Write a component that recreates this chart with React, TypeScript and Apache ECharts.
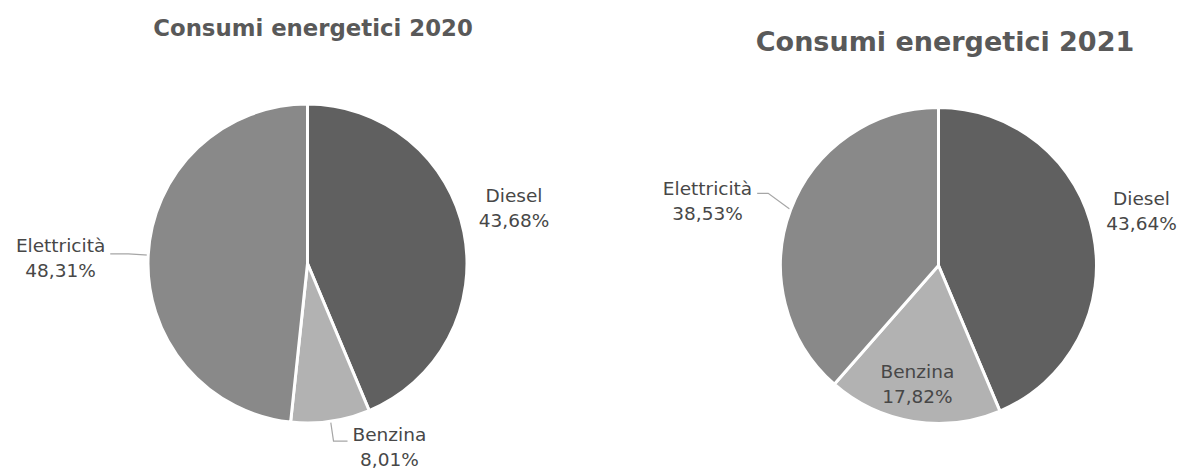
import React, { useEffect, useRef } from 'react';
import * as echarts from 'echarts';

// ---- data ----
const categories = ['Diesel', 'Benzina', 'Elettricità'];
const values2020 = [43.68, 8.01, 48.31];
const values2021 = [43.64, 17.82, 38.53];
const titles = ['Consumi energetici 2020', 'Consumi energetici 2021'];

// ---- styles / layout ----
const sliceColors = ['#606060', '#b2b2b2', '#898989'];
const FONT = '"DejaVu Sans", Verdana, sans-serif';

type ItemLayout = {
  inside?: boolean;
  line?: { show: boolean; length: number; length2: number };
  offX?: number;
  offY?: number;
  elbowDy?: number;
};

const layout2020: ItemLayout[] = [
  { line: { show: false, length: 6, length2: 4 }, offY: -23 },
  { line: { show: true, length: 20, length2: 14 }, offY: 6 },
  { line: { show: true, length: 20, length2: 18 }, offY: 4.5 },
];
const layout2021: ItemLayout[] = [
  { line: { show: false, length: 8, length2: 4 }, offX: -4, offY: -21.5 },
  { inside: true, offX: -8, offY: 37.5 },
  { line: { show: true, length: 24, length2: 11 }, offY: 0, elbowDy: -8 },
];

const fmt = (v: number) => v.toFixed(2).replace('.', ',');

const buildData = (vals: number[], layout: ItemLayout[]) =>
  categories.map((name, i) => ({
    name,
    value: vals[i],
    itemStyle: { color: sliceColors[i] },
    label: layout[i].inside ? { position: 'inside' } : {},
    labelLine: layout[i].inside ? { show: false } : { ...layout[i].line },
  }));

const makeLabelLayout = (layout: ItemLayout[]) => (p: any) => {
  const t = layout[p.dataIndex] || {};
  const r = p.labelRect;
  const res: any = {
    x: r.x + r.width / 2 + (t.offX || 0),
    y: r.y + r.height / 2 + (t.offY || 0),
    align: 'center',
    verticalAlign: 'middle',
  };
  if (p.labelLinePoints) {
    const pts = p.labelLinePoints.map((pt: number[], k: number) =>
      k > 0 && t.elbowDy ? [pt[0], pt[1] + t.elbowDy] : pt
    );
    res.labelLinePoints = pts;
  }
  return res;
};

const labelBase = {
  show: true,
  position: 'outside',
  color: '#474747',
  fontFamily: FONT,
  fontSize: 18.5,
  lineHeight: 25,
  overflow: 'none',
  bleedMargin: 0,
  distanceToLabelLine: 5,
  formatter: (p: any) => `${p.name}\n${fmt(p.value)}%`,
};

const labelLineBase = {
  smooth: false,
  lineStyle: { color: '#a6a6a6', width: 1.2 },
};

const makeSeries = (
  vals: number[],
  layout: ItemLayout[],
  center: [number, number],
  radius: number
) => ({
  type: 'pie',
  center,
  radius,
  startAngle: 90,
  clockwise: true,
  avoidLabelOverlap: false,
  silent: true,
  emphasis: { disabled: true },
  itemStyle: { borderColor: '#ffffff', borderWidth: 3 },
  label: labelBase,
  labelLine: labelLineBase,
  labelLayout: makeLabelLayout(layout),
  data: buildData(vals, layout),
});

export default function App() {
  const ref = useRef<HTMLDivElement>(null);

  useEffect(() => {
    document.body.style.margin = '0';
    if (!ref.current) return;
    const chart = echarts.init(ref.current, null, { renderer: 'svg' });
    chart.setOption({
      animation: false,
      backgroundColor: '#ffffff',
      title: [
        {
          text: titles[0],
          left: 308,
          top: 11,
          textAlign: 'center',
          textStyle: { fontFamily: FONT, fontWeight: 'bold', fontSize: 22.8, color: '#595959' },
        },
        {
          text: titles[1],
          left: 940,
          top: 23,
          textAlign: 'center',
          textStyle: { fontFamily: FONT, fontWeight: 'bold', fontSize: 27, color: '#595959' },
        },
      ],
      series: [
        makeSeries(values2020, layout2020, [307.5, 263.5], 159.5),
        makeSeries(values2021, layout2021, [938.5, 265.5], 158),
      ],
    });
    return () => chart.dispose();
  }, []);

  return <div ref={ref} style={{ width: 1179, height: 470 }} />;
}
